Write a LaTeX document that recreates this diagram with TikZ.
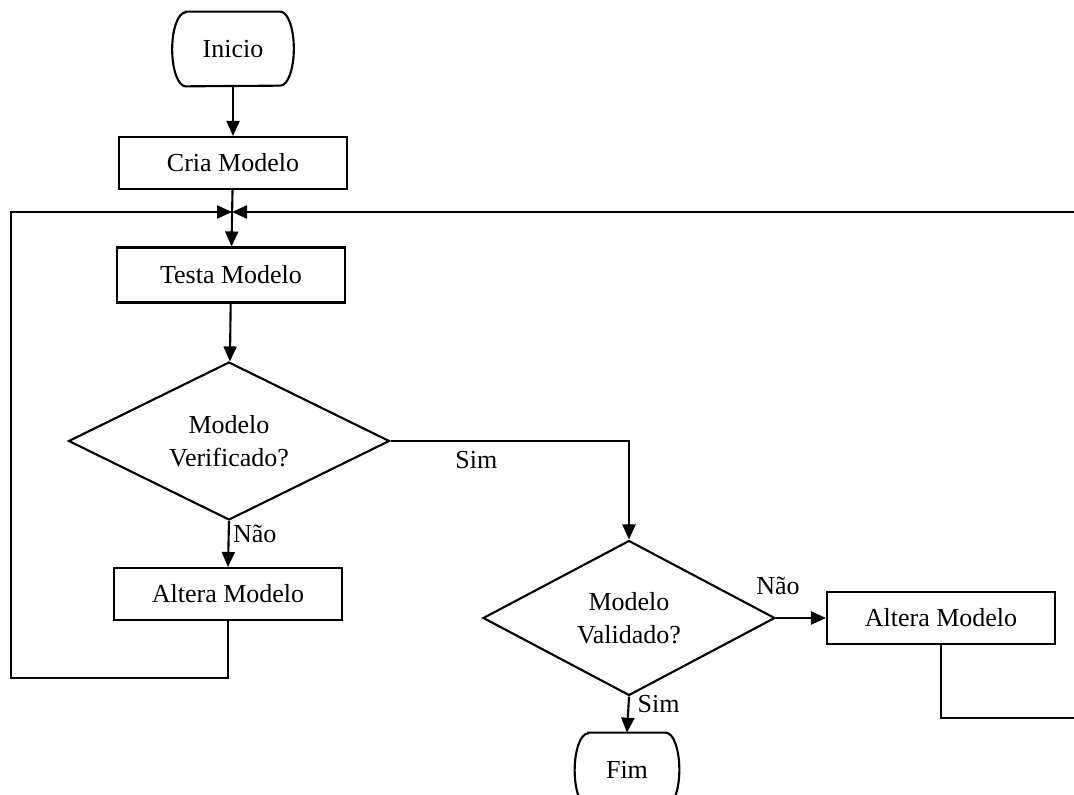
\documentclass[tikz,border=0pt]{standalone}
\usepackage{fontspec}
\setmainfont{Liberation Serif}
\usetikzlibrary{shapes.geometric,arrows.meta}

\tikzset{
  every node/.style={font=\fontsize{14.8}{18.5}\selectfont},
  box/.style={draw, rectangle, line width=1.2pt, minimum width=4.56cm, minimum height=1.04cm, inner sep=0pt},
  decision/.style={draw, diamond, aspect=2, line width=1.2pt, inner sep=0pt, align=center},
  terminal/.style={rectangle, inner sep=0pt, minimum height=1.48cm},
  flow/.style={line width=1.2pt, -{Triangle[length=0.3cm,width=0.26cm]}},
  link/.style={line width=1.2pt}
}

\begin{document}
\begin{tikzpicture}[x=0.02cm, y=-0.02cm]
 \useasboundingbox (0,0) rectangle (1074,794);
 \clip (0,0) rectangle (1074,794);

 % main column
 \node[terminal, minimum width=2.42cm] (inicio) at (233,49) {Inicio};
 \node[box] (cria) at (233,163) {Cria Modelo};
 \node[box, minimum height=1.1cm] (testa) at (231,275) {Testa Modelo};
 \node[decision, minimum width=6.42cm, minimum height=3.16cm] (verif) at (229,441) {Modelo\\Verificado?};
 \node[box] (altA) at (228,594) {Altera Modelo};

 % second decision
 \node[decision, minimum width=5.84cm, minimum height=3.1cm] (valid) at (629,618) {Modelo\\Validado?};
 \node[box] (altB) at (941,618) {Altera Modelo};
 \node[terminal, minimum width=2.08cm] (fim) at (627,770) {Fim};

 % terminals: flat top and bottom, curved sides
 \foreach \t in {inicio,fim}
  \draw[link] ([xshift=0.27cm]\t.north west) -- ([xshift=-0.27cm]\t.north east)
    arc[start angle=90, end angle=-90, x radius=0.27cm, y radius=0.74cm]
    -- ([xshift=0.27cm]\t.south west)
    arc[start angle=270, end angle=90, x radius=0.27cm, y radius=0.74cm] -- cycle;

 \coordinate (merge) at (232,212);

 \draw[flow] (inicio) -- (cria);
 \draw[flow] (cria) -- (testa);
 \draw[flow] (testa) -- (verif);
 \draw[flow] (verif.south) -- node[pos=0.29, xshift=0.52cm] {Não} (altA.north);
 \draw[flow] (verif.east) -- node[pos=0.36, yshift=-0.38cm] {Sim} (valid.north |- verif.east) -- (valid.north);
 \draw[flow] (valid.east) -- node[pos=0.04, yshift=0.64cm] {Não} (altB.west);
 \draw[flow] (valid.south) -- node[pos=0.2, xshift=0.6cm] {Sim} (fim.north);

 % loops back to the test
 \draw[flow] (altA.south) -- (altA.south |- 0,678) -| (11,212) -- (merge);
 \draw[flow] (altB.south) -- (altB.south |- 0,718) -| (1090,212) -- (merge);
\end{tikzpicture}
\end{document}
